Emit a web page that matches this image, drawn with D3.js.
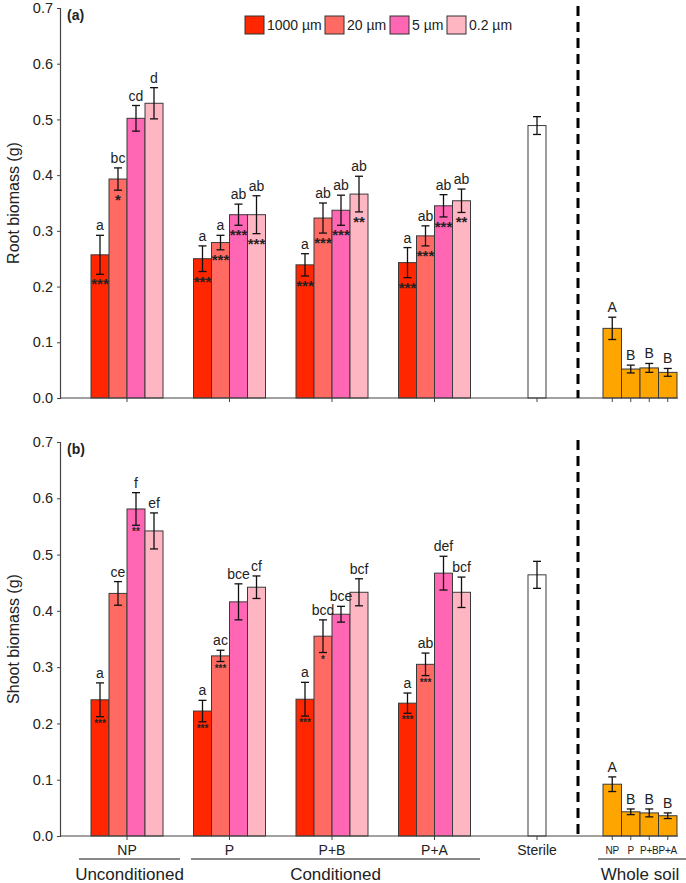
<!DOCTYPE html>
<html>
<head>
<meta charset="utf-8">
<script src="https://cdn.jsdelivr.net/npm/d3@7"></script>
<style>
  body { margin: 0; background: #fff; }
  text { font-family: "Liberation Sans", Arial, sans-serif; fill: #222; }
</style>
</head>
<body>
<svg id="chart" width="686" height="883"></svg>
<script>
// categories
const sizes = ['1000 µm', '20 µm', '5 µm', '0.2 µm'];
const treatments = ['NP', 'P', 'P+B', 'P+A'];
const wholeSoil = ['NP', 'P', 'P+B', 'P+A'];
const sizeColors = ['#ff2600', '#ff6a63', '#ff66b4', '#ffb6c3'];

// (a) root biomass, rows = treatment, cols = size fraction
const rootMean = [
    [0.257, 0.393, 0.502, 0.529],
    [0.250, 0.279, 0.329, 0.329],
    [0.239, 0.323, 0.337, 0.366],
    [0.243, 0.291, 0.345, 0.354]
];
const rootErr = [
    [0.035, 0.020, 0.023, 0.028],
    [0.023, 0.013, 0.019, 0.034],
    [0.020, 0.027, 0.027, 0.032],
    [0.027, 0.018, 0.020, 0.021]
];
const rootLetters = [
    ['a', 'bc', 'cd', 'd'],
    ['a', 'a', 'ab', 'ab'],
    ['a', 'ab', 'ab', 'ab'],
    ['a', 'ab', 'ab', 'ab']
];
const rootStars = [
    ['***', '*', '', ''],
    ['***', '***', '***', '***'],
    ['***', '***', '***', '**'],
    ['***', '***', '***', '**']
];
const rootSterile = 0.489, rootSterileErr = 0.016;
const rootWhole = [0.125, 0.052, 0.054, 0.046];
const rootWholeErr = [0.020, 0.007, 0.008, 0.007];
const rootWholeLetters = ['A', 'B', 'B', 'B'];

// (b) shoot biomass
const shootMean = [
    [0.242, 0.431, 0.581, 0.542],
    [0.222, 0.320, 0.416, 0.442],
    [0.243, 0.355, 0.394, 0.433],
    [0.236, 0.305, 0.467, 0.433]
];
const shootErr = [
    [0.030, 0.021, 0.029, 0.032],
    [0.019, 0.010, 0.032, 0.020],
    [0.030, 0.029, 0.014, 0.024],
    [0.018, 0.020, 0.030, 0.027]
];
const shootLetters = [
    ['a', 'ce', 'f', 'ef'],
    ['a', 'ac', 'bce', 'cf'],
    ['a', 'bcd', 'bce', 'bcf'],
    ['a', 'ab', 'def', 'bcf']
];
const shootStars = [
    ['***', '', '**', ''],
    ['***', '***', '', ''],
    ['***', '*', '', ''],
    ['***', '***', '', '']
];
const shootSterile = 0.464, shootSterileErr = 0.024;
const shootWhole = [0.092, 0.043, 0.041, 0.036];
const shootWholeErr = [0.013, 0.005, 0.007, 0.005];
const shootWholeLetters = ['A', 'B', 'B', 'B'];

const yTicks = [0, 0.1, 0.2, 0.3, 0.4, 0.5, 0.6, 0.7];

const svg = d3.select('#chart');
const AXIS_X = 60;
const DASH_X = 578;

const xGroup = d3.scalePoint()
    .domain([...treatments, 'Sterile'])
    .range([127, 537]);
const xSize = d3.scaleBand()
    .domain(sizes)
    .range([-36, 36])
    .padding(0);
const xWhole = d3.scaleBand()
    .domain(wholeSoil)
    .range([603, 677])
    .padding(0);

function drawPanel(cfg) {
    const y = d3.scaleLinear().domain([0, 0.7]).range([cfg.bottom, cfg.top]);
    const g = svg.append('g');

    // y axis
    const yAxis = g.append('g')
        .attr('transform', `translate(${AXIS_X},0)`)
        .call(d3.axisLeft(y).tickValues(yTicks).tickFormat(d3.format('.1f')).tickSize(3).tickPadding(4));
    yAxis.select('.domain').attr('stroke', '#444').attr('stroke-width', 1.2);
    yAxis.selectAll('.tick line').attr('stroke', '#444');
    yAxis.selectAll('.tick text')
        .style('font-family', '"Liberation Sans", Arial, sans-serif')
        .style('font-size', '14.5px').attr('fill', '#222');

    // y label
    g.append('text')
        .attr('transform', `translate(19, ${(cfg.top + cfg.bottom) / 2}) rotate(-90)`)
        .attr('text-anchor', 'middle')
        .style('font-size', '16px')
        .text(cfg.ylabel);

    // panel tag
    g.append('text')
        .attr('x', 67).attr('y', cfg.top + 12)
        .style('font-size', '14px').style('font-weight', 'bold')
        .text(cfg.tag);

    // flatten rows for join
    const rows = [];
    treatments.forEach((t, i) => {
        sizes.forEach((s, j) => {
            rows.push({
                t: t, s: s, j: j,
                v: cfg.mean[i][j], e: cfg.err[i][j],
                letter: cfg.letters[i][j], stars: cfg.stars[i][j],
                x: xGroup(t) + xSize(s), w: xSize.bandwidth(),
                fill: sizeColors[j]
            });
        });
    });
    rows.push({ t: 'Sterile', v: cfg.sterile, e: cfg.sterileErr, letter: '', stars: '',
        x: xGroup('Sterile') - 9, w: 18, fill: '#ffffff' });
    wholeSoil.forEach((t, i) => {
        rows.push({ t: t, v: cfg.whole[i], e: cfg.wholeErr[i], letter: cfg.wholeLetters[i], stars: '',
            x: xWhole(t), w: xWhole.bandwidth(), fill: '#ffa500', whole: true });
    });

    g.append('g').selectAll('rect')
        .data(rows)
        .join('rect')
        .attr('x', d => d.x)
        .attr('y', d => y(d.v))
        .attr('width', d => d.w)
        .attr('height', d => y(0) - y(d.v))
        .attr('fill', d => d.fill)
        .attr('stroke', '#3a3a3a')
        .attr('stroke-width', 1);

    // error bars
    const eb = g.append('g').attr('stroke', '#111').attr('stroke-width', 1.3);
    rows.forEach(d => {
        const cx = d.x + d.w / 2;
        eb.append('line').attr('x1', cx).attr('x2', cx).attr('y1', y(d.v + d.e)).attr('y2', y(d.v - d.e));
        eb.append('line').attr('x1', cx - 4).attr('x2', cx + 4).attr('y1', y(d.v + d.e)).attr('y2', y(d.v + d.e));
        eb.append('line').attr('x1', cx - 4).attr('x2', cx + 4).attr('y1', y(d.v - d.e)).attr('y2', y(d.v - d.e));
    });

    // letters above error bars
    g.append('g').selectAll('text')
        .data(rows.filter(d => d.letter))
        .join('text')
        .attr('x', d => d.x + d.w / 2)
        .attr('y', d => y(d.v + d.e) - 5)
        .attr('text-anchor', 'middle')
        .style('font-size', '14px')
        .text(d => d.letter);

    // significance stars below error bars
    g.append('g').selectAll('text')
        .data(rows.filter(d => d.stars))
        .join('text')
        .attr('x', d => d.x + d.w / 2)
        .attr('y', d => y(d.v - d.e) + cfg.starDy)
        .attr('text-anchor', 'middle')
        .style('font-size', cfg.starSize)
        .style('font-weight', 'bold')
        .style('letter-spacing', cfg.starSpacing)
        .attr('fill', '#222')
        .text(d => d.stars);

    // x axis line + ticks
    g.append('line')
        .attr('x1', AXIS_X).attr('x2', 678)
        .attr('y1', y(0)).attr('y2', y(0))
        .attr('stroke', '#444').attr('stroke-width', 1.2);
    const tickXs = [...xGroup.domain().map(d => xGroup(d)), ...wholeSoil.map(d => xWhole(d) + xWhole.bandwidth() / 2)];
    g.append('g').selectAll('line')
        .data(tickXs)
        .join('line')
        .attr('x1', d => d).attr('x2', d => d)
        .attr('y1', y(0)).attr('y2', y(0) + 4)
        .attr('stroke', '#444');

    // dashed separator
    g.append('line')
        .attr('x1', DASH_X).attr('x2', DASH_X)
        .attr('y1', cfg.top - 2).attr('y2', y(0))
        .attr('stroke', '#000').attr('stroke-width', 3)
        .attr('stroke-dasharray', '10,6');

    return y;
}

drawPanel({
    top: 8, bottom: 398, ylabel: 'Root biomass (g)', tag: '(a)',
    mean: rootMean, err: rootErr, letters: rootLetters, stars: rootStars,
    sterile: rootSterile, sterileErr: rootSterileErr,
    whole: rootWhole, wholeErr: rootWholeErr, wholeLetters: rootWholeLetters,
    starDy: 15, starSize: '15px', starSpacing: '0px'
});
drawPanel({
    top: 442, bottom: 836, ylabel: 'Shoot biomass (g)', tag: '(b)',
    mean: shootMean, err: shootErr, letters: shootLetters, stars: shootStars,
    sterile: shootSterile, sterileErr: shootSterileErr,
    whole: shootWhole, wholeErr: shootWholeErr, wholeLetters: shootWholeLetters,
    starDy: 10, starSize: '10px', starSpacing: '0px'
});

// legend
const legend = svg.append('g');
const legendX = [245, 325, 390, 447];
sizes.forEach((s, i) => {
    legend.append('rect')
        .attr('x', legendX[i]).attr('y', 16)
        .attr('width', 19).attr('height', 18)
        .attr('fill', sizeColors[i]).attr('stroke', '#333');
    legend.append('text')
        .attr('x', legendX[i] + 22).attr('y', 30)
        .style('font-size', '14px')
        .text(s);
});

// bottom category labels
svg.append('g').selectAll('text')
    .data(xGroup.domain())
    .join('text')
    .attr('x', d => xGroup(d))
    .attr('y', 855)
    .attr('text-anchor', 'middle')
    .style('font-size', '14px')
    .text(d => d);
svg.append('g').selectAll('text')
    .data(wholeSoil)
    .join('text')
    .attr('x', d => xWhole(d) + xWhole.bandwidth() / 2)
    .attr('y', 854)
    .attr('text-anchor', 'middle')
    .style('font-size', '10px')
    .style('letter-spacing', '-0.3px')
    .text(d => d);

// group brackets
const brackets = [
    { label: 'Unconditioned', x1: 79, x2: 180 },
    { label: 'Conditioned', x1: 191, x2: 480 },
    { label: 'Whole soil', x1: 598, x2: 686 }
];
brackets.forEach(b => {
    svg.append('line')
        .attr('x1', b.x1).attr('x2', b.x2)
        .attr('y1', 859).attr('y2', 859)
        .attr('stroke', '#111').attr('stroke-width', 1.2);
    svg.append('text')
        .attr('x', b.label === 'Whole soil' ? 640 : (b.x1 + b.x2) / 2)
        .attr('y', 880)
        .attr('text-anchor', 'middle')
        .style('font-size', '17px')
        .text(b.label);
});
</script>
</body>
</html>
